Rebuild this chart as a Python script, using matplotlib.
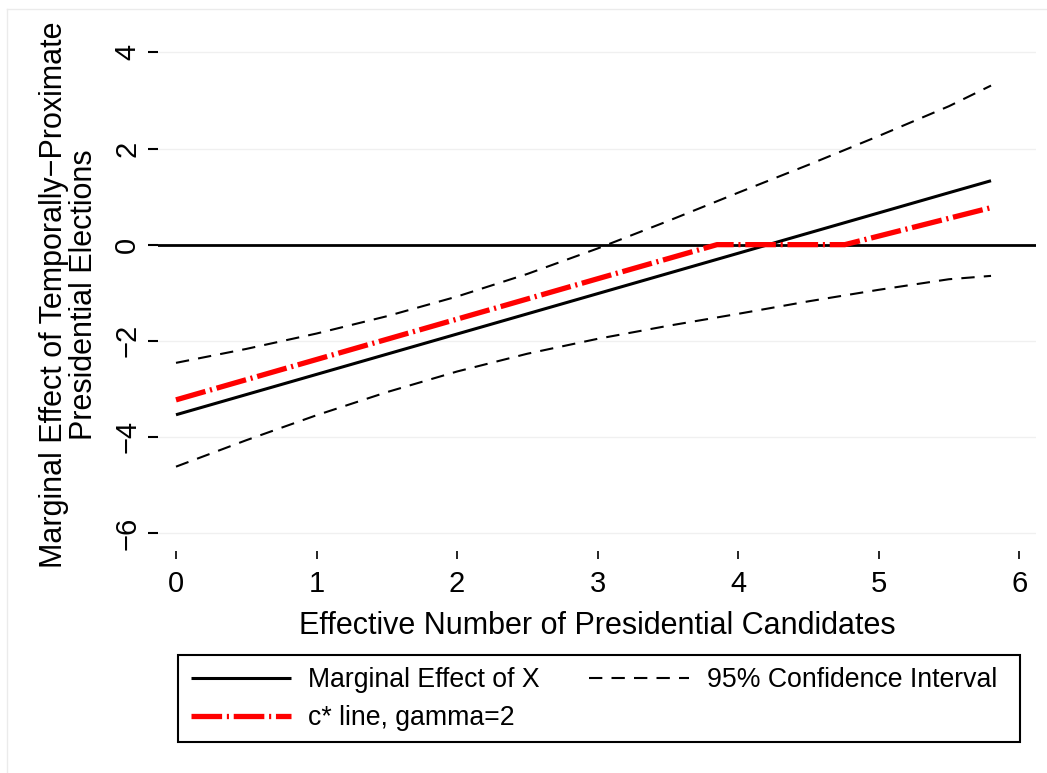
import numpy as np
import matplotlib
matplotlib.use('Agg')
import matplotlib.pyplot as plt
from matplotlib.lines import Line2D
from matplotlib.patches import Rectangle

plt.rcParams['font.family'] = ['Liberation Sans', 'DejaVu Sans']

# effective number of presidential candidates
x_vals = [0, 0.5, 1, 1.5, 2, 2.5, 3, 3.5, 4, 4.5, 5, 5.5, 5.8]
me = [-3.54, -3.12, -2.70, -2.28, -1.86, -1.44, -1.02, -0.60, -0.18, 0.24, 0.66, 1.08, 1.33]
ci_upper = [-2.46, -2.17, -1.85, -1.49, -1.08, -0.61, -0.08, 0.49, 1.08, 1.66, 2.26, 2.88, 3.31]
ci_lower = [-4.62, -4.07, -3.55, -3.07, -2.64, -2.27, -1.96, -1.69, -1.44, -1.18, -0.94, -0.72, -0.65]

# c* line, gamma=2
cstar_x = [0, 1, 2, 3, 3.85, 4.76, 5.3, 5.8]
cstar_y = [-3.23, -2.39, -1.55, -0.71, 0, 0, 0.40, 0.77]

xticks = [0, 1, 2, 3, 4, 5, 6]
yticks = [-6, -4, -2, 0, 2, 4]

W, H = 1047, 773
fig = plt.figure(figsize=(W / 100, H / 100), dpi=100)
fig.patch.set_facecolor('white')

left, right, top, bottom = 158, 1036, 38, 551
ax = fig.add_axes([left / W, 1 - bottom / H, (right - left) / W, (bottom - top) / H])
ax.set_xlim(-0.128, 6.12)
ax.set_ylim(-6.375, 4.3)

for s in ax.spines.values():
    s.set_visible(False)

for yt in yticks:
    ax.axhline(yt, color='#f0f0f0', lw=1.0, zorder=0)
ax.axhline(0, color='black', lw=2.0, zorder=1)

ax.plot(x_vals, me, color='black', lw=2.2, solid_capstyle='butt', label='Marginal Effect of X')
l_red, = ax.plot(cstar_x, cstar_y, color='red', lw=3.8, label='c* line, gamma=2')
l_red.set_dashes([5.8, 0.9, 0.4, 0.9])
l_up, = ax.plot(x_vals, ci_upper, color='black', lw=1.5, label='95% Confidence Interval')
l_up.set_dashes([6.4, 4.4])
l_lo, = ax.plot(x_vals, ci_lower, color='black', lw=1.5)
l_lo.set_dashes([6.4, 4.4])

ax.set_xticks(xticks)
ax.set_yticks(yticks)
ax.set_yticklabels([str(v).replace('-', '\u2212') for v in yticks], rotation=90, va='center')
ax.tick_params(axis='x', length=6, width=1.2, pad=8, labelsize=21)
ax.tick_params(axis='y', length=7, width=1.5, pad=5, labelsize=21)

ax.set_xlabel('Effective Number of Presidential Candidates', fontsize=22, labelpad=9)
ax.set_ylabel('Marginal Effect of Temporally\u2212Proximate\nPresidential Elections',
              fontsize=22, linespacing=1.0, labelpad=10)

# legend box
fig.add_artist(Rectangle((178 / W, 1 - 742 / H), 842 / W, 87 / H, transform=fig.transFigure,
                         fill=False, edgecolor='black', lw=1.5))
handles, labels = ax.get_legend_handles_labels()
fig.legend(handles, labels,
           loc='upper left', bbox_to_anchor=(191 / W, 1 - 667 / H), ncol=2,
           frameon=False, fontsize=19.2, handlelength=3.75, handletextpad=0.65,
           columnspacing=1.85, labelspacing=0.45, borderpad=0, borderaxespad=0)

# faint outer frame
fig.add_artist(Line2D([7 / W, 7 / W], [0, 1 - 9 / H], transform=fig.transFigure, color='#ebebeb', lw=1))
fig.add_artist(Line2D([7 / W, 1], [1 - 9 / H, 1 - 9 / H], transform=fig.transFigure, color='#ebebeb', lw=1))

fig.savefig('out.png', dpi=100)
